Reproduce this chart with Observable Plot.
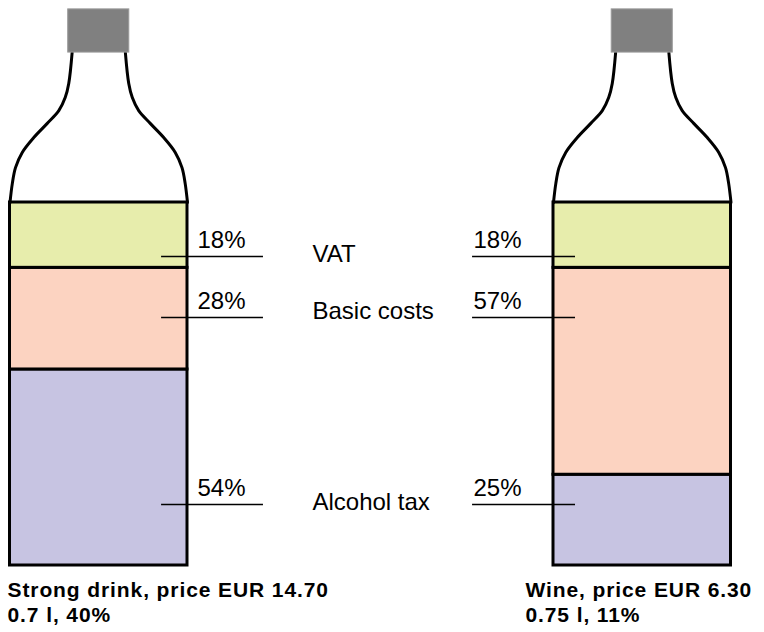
<!DOCTYPE html>
<html>
<head>
<meta charset="utf-8">
<script src="https://cdn.jsdelivr.net/npm/d3@7"></script>
<script src="https://cdn.jsdelivr.net/npm/@observablehq/plot@0.6"></script>
<style>
  html, body { margin: 0; padding: 0; background: #fff; }
  .caption text { letter-spacing: 0.9px; }
</style>
</head>
<body>
<div id="chart"></div>
<script>
// ---- data ----
const drinks = ["Strong drink", "Wine"];
const parts = ["Alcohol tax", "Basic costs", "VAT"]; // bottom to top
const strongShares = [54, 28, 18];
const wineShares = [25, 57, 18];
const prices = [14.70, 6.30];
const volumes = ["0.7 l", "0.75 l"];
const strengths = ["40%", "11%"];
const partColors = ["#c7c4e2", "#fcd3c1", "#e7edac"];

// ---- layout (in bottle-width units and percent of body height) ----
const gap = 3.062;                  // distance between bottle left edges, in bottle widths
const leaderLevel = {"VAT": 85.1, "Basic costs": 68.3, "Alcohol tax": 16.8};
const nameLevel = {"VAT": 83.5, "Basic costs": 68.0, "Alcohol tax": 15.2};
const leaderSpan = [[0.854, 1.428], [-0.456, 0.124]];
const pctX = [1.056, -0.451];
const nameX = 1.704;
const captionX = [-0.014, -0.158];
const captionY1 = -8.7, captionY2 = -15.5;
// half-profile of the neck: distance from centre (bottle widths) and height (percent units)
const neckProfile = [
  [0.5, 100], [0.487, 105.2], [0.469, 109.6], [0.431, 113.8], [0.366, 117.9],
  [0.290, 121.8], [0.225, 125.3], [0.189, 128.9], [0.169, 132.8], [0.150, 141.3]
];
const capHalf = 0.172, capBottom = 141.3, capTop = 153.2;

const shares = [strongShares, wineShares];
const segments = drinks.flatMap((d, i) => {
  let acc = 0;
  return parts.map((p, j) => {
    const v = shares[i][j];
    const r = {drink: d, i, part: p, value: v, y1: acc, y2: acc + v};
    acc += v;
    return r;
  });
});
const left = i => i * gap;
const neck = drinks.flatMap((d, i) => [-1, 1].flatMap(s =>
  neckProfile.map(([dx, y]) => ({id: d + s, x: left(i) + 0.5 + s * dx, y}))));
const caps = drinks.map((d, i) => ({x1: left(i) + 0.5 - capHalf, x2: left(i) + 0.5 + capHalf, y1: capBottom, y2: capTop}));
const leaders = segments.map(s => ({...s, x1: left(s.i) + leaderSpan[s.i][0], x2: left(s.i) + leaderSpan[s.i][1], ly: leaderLevel[s.part]}));
const names = parts.map(p => ({part: p, y: nameLevel[p]}));
const captions = drinks.flatMap((d, i) => [
  {x: left(i) + captionX[i], y: captionY1, text: `${d}, price EUR ${prices[i].toFixed(2)}`},
  {x: left(i) + captionX[i], y: captionY2, text: `${volumes[i]}, ${strengths[i]}`}
]);

const chart = Plot.plot({
  width: 764,
  height: 632,
  margin: 0,
  style: {fontFamily: "'Liberation Sans', Arial, Helvetica, sans-serif", background: "#fff"},
  x: {domain: [0, gap + 1], range: [9.5, 730.5], axis: null},
  y: {domain: [0, 100], range: [565, 202], axis: null},
  color: {domain: parts, range: partColors},
  marks: [
    Plot.rect(segments, {x1: d => left(d.i), x2: d => left(d.i) + 1, y1: "y1", y2: "y2", fill: "part", stroke: "#000", strokeWidth: 3}),
    Plot.line(neck, {x: "x", y: "y", z: "id", curve: "catmull-rom", stroke: "#000", strokeWidth: 3}),
    Plot.rect(caps, {x1: "x1", x2: "x2", y1: "y1", y2: "y2", fill: "#808080", stroke: "#9a9a9a", strokeWidth: 1}),
    Plot.ruleY(leaders, {y: "ly", x1: "x1", x2: "x2", stroke: "#000", strokeWidth: 1.5}),
    Plot.text(leaders, {x: d => left(d.i) + pctX[d.i], y: "ly", text: d => `${d.value}%`, textAnchor: "start", lineAnchor: "bottom", dy: -9, fontSize: 24, fill: "#000"}),
    Plot.text(names, {x: () => nameX, y: "y", text: "part", textAnchor: "start", lineAnchor: "bottom", fontSize: 24, fill: "#000"}),
    Plot.text(captions, {x: "x", y: "y", text: "text", textAnchor: "start", lineAnchor: "bottom", fontSize: 21, fontWeight: "bold", fill: "#000", className: "caption"})
  ]
});
document.getElementById("chart").appendChild(chart);
</script>
</body>
</html>
